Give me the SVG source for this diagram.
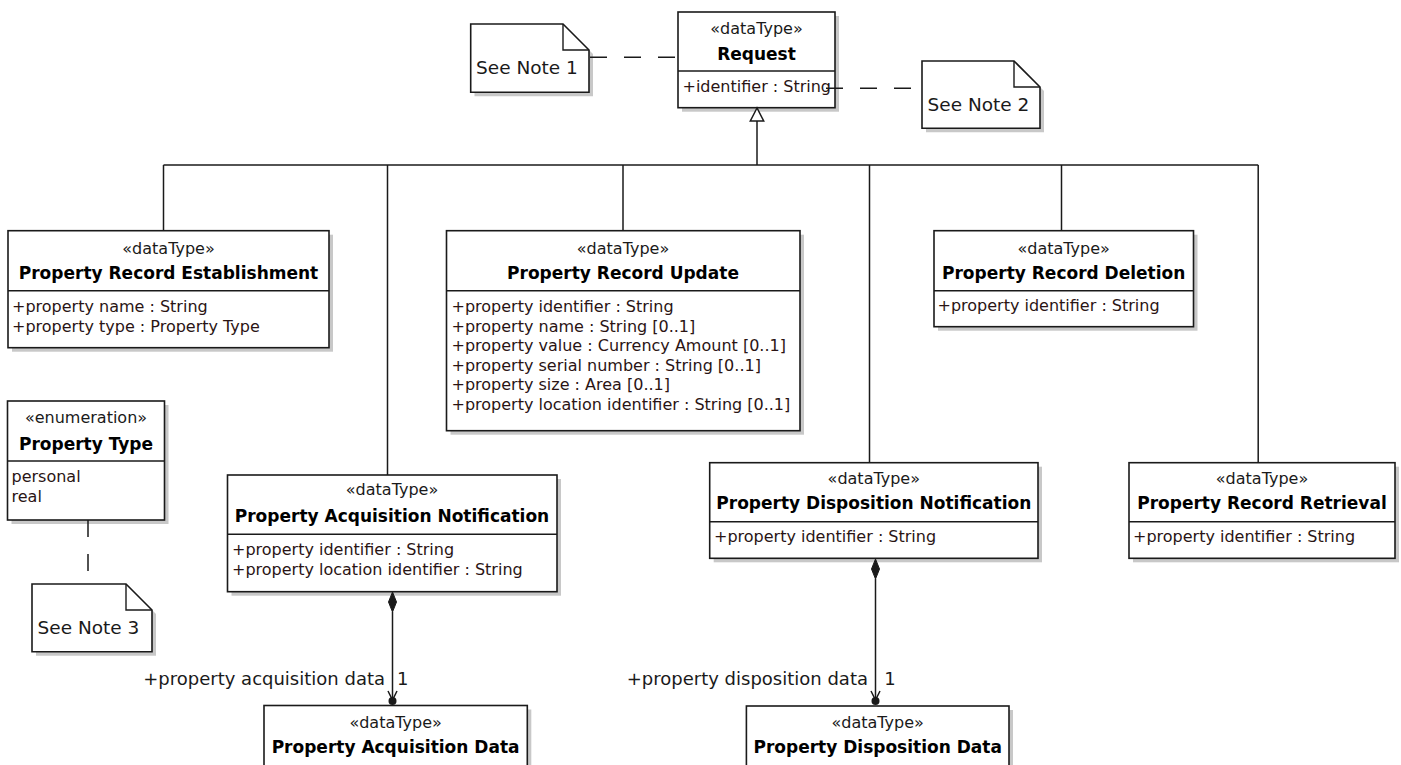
<svg xmlns="http://www.w3.org/2000/svg" width="1401" height="765" viewBox="0 0 1401 765">
<style>
  .box { fill: #ffffff; stroke: #1a1a1a; stroke-width: 1.6; }
  .sh { fill: #c8c8c8; }
  .div { stroke: #1a1a1a; stroke-width: 1.4; fill: none; }
  .st { font-family: "DejaVu Sans", Verdana, sans-serif; font-size: 16px; fill: #1a1a1a; text-anchor: middle; }
  .ti { font-family: "DejaVu Sans", Verdana, sans-serif; font-size: 17px; font-weight: bold; fill: #000000; text-anchor: middle; }
  .at { font-family: "DejaVu Sans", Verdana, sans-serif; font-size: 16px; fill: #2a1414; }
  .nt { font-family: "DejaVu Sans", Verdana, sans-serif; font-size: 18.5px; fill: #1a1a1a; }
  .lb { font-family: "DejaVu Sans", Verdana, sans-serif; font-size: 18px; fill: #1a1a1a; }
  .ln { stroke: #1a1a1a; stroke-width: 1.5; fill: none; }
  .dash { stroke: #1a1a1a; stroke-width: 1.5; fill: none; stroke-dasharray: 17 17; }
</style>

<!-- Notes -->
<g id="note1">
  <path class="sh" d="M474.5,28 H567 L593,54 V96.3 H474.5 Z"/>
  <path class="box" d="M470.7,24 H563 L589,50 V92.3 H470.7 Z"/>
  <path class="div" d="M563,24 V50 H589"/>
  <text class="nt" x="476" y="73.5">See Note 1</text>
</g>
<g id="note2">
  <path class="sh" d="M926,65 H1018 L1044,91 V132.3 H926 Z"/>
  <path class="box" d="M922,61 H1014 L1040,87 V128.3 H922 Z"/>
  <path class="div" d="M1014,61 V87 H1040"/>
  <text class="nt" x="927.5" y="111">See Note 2</text>
</g>
<g id="note3">
  <path class="sh" d="M36,588 H130 L156,614 V655.7 H36 Z"/>
  <path class="box" d="M32,584 H126 L152,610 V651.7 H32 Z"/>
  <path class="div" d="M126,584 V610 H152"/>
  <text class="nt" x="37.5" y="633.5">See Note 3</text>
</g>

<!-- Request -->
<g id="request">
  <rect class="sh" x="682" y="16" width="157" height="95.7"/>
  <rect class="box" x="678" y="12" width="157" height="95.7"/>
  <line class="div" x1="678" y1="71" x2="835" y2="71"/>
  <text class="st" x="756.5" y="34">«dataType»</text>
  <text class="ti" x="756.5" y="60">Request</text>
  <text class="at" x="682.5" y="92">+identifier : String</text>
</g>

<!-- Property Record Establishment -->
<g id="establishment">
  <rect class="sh" x="12" y="234.7" width="321" height="117"/>
  <rect class="box" x="8" y="230.7" width="321" height="117"/>
  <line class="div" x1="8" y1="290.7" x2="329" y2="290.7"/>
  <text class="st" x="168.5" y="254">«dataType»</text>
  <text class="ti" x="168.5" y="279">Property Record Establishment</text>
  <text class="at" x="12" y="312">+property name : String</text>
  <text class="at" x="12" y="332">+property type : Property Type</text>
</g>

<!-- Property Record Update -->
<g id="update">
  <rect class="sh" x="450.5" y="234.7" width="353.5" height="200"/>
  <rect class="box" x="446.5" y="230.7" width="353.5" height="200"/>
  <line class="div" x1="446.5" y1="290.7" x2="800" y2="290.7"/>
  <text class="st" x="623" y="254">«dataType»</text>
  <text class="ti" x="623" y="279">Property Record Update</text>
  <text class="at" x="451.5" y="312">+property identifier : String</text>
  <text class="at" x="451.5" y="331.5">+property name : String [0..1]</text>
  <text class="at" x="451.5" y="351">+property value : Currency Amount [0..1]</text>
  <text class="at" x="451.5" y="370.5">+property serial number : String [0..1]</text>
  <text class="at" x="451.5" y="390">+property size : Area [0..1]</text>
  <text class="at" x="451.5" y="409.5">+property location identifier : String [0..1]</text>
</g>

<!-- Property Record Deletion -->
<g id="deletion">
  <rect class="sh" x="938" y="234.7" width="259.5" height="96"/>
  <rect class="box" x="934" y="230.7" width="259.5" height="96"/>
  <line class="div" x1="934" y1="290.7" x2="1193.5" y2="290.7"/>
  <text class="st" x="1063.7" y="253.5">«dataType»</text>
  <text class="ti" x="1063.7" y="279">Property Record Deletion</text>
  <text class="at" x="937.5" y="311">+property identifier : String</text>
</g>

<!-- Property Type enumeration -->
<g id="propertyType">
  <rect class="sh" x="11.5" y="405" width="157" height="119"/>
  <rect class="box" x="7.5" y="401" width="157" height="119"/>
  <line class="div" x1="7.5" y1="461" x2="164.5" y2="461"/>
  <text class="st" x="86" y="423">«enumeration»</text>
  <text class="ti" x="86" y="450">Property Type</text>
  <text class="at" x="11.5" y="481.5">personal</text>
  <text class="at" x="11.5" y="502">real</text>
</g>

<!-- Property Acquisition Notification -->
<g id="acqNotification">
  <rect class="sh" x="231.5" y="479" width="329.5" height="116.7"/>
  <rect class="box" x="227.5" y="475" width="329.5" height="116.7"/>
  <line class="div" x1="227.5" y1="534.3" x2="557" y2="534.3"/>
  <text class="st" x="392" y="495">«dataType»</text>
  <text class="ti" x="392" y="521.5">Property Acquisition Notification</text>
  <text class="at" x="232" y="555">+property identifier : String</text>
  <text class="at" x="232" y="575">+property location identifier : String</text>
</g>

<!-- Property Disposition Notification -->
<g id="dispNotification">
  <rect class="sh" x="713.7" y="466.7" width="328.3" height="95.6"/>
  <rect class="box" x="709.7" y="462.7" width="328.3" height="95.6"/>
  <line class="div" x1="709.7" y1="521.7" x2="1038" y2="521.7"/>
  <text class="st" x="873.8" y="484">«dataType»</text>
  <text class="ti" x="873.8" y="509">Property Disposition Notification</text>
  <text class="at" x="714" y="542">+property identifier : String</text>
</g>

<!-- Property Record Retrieval -->
<g id="retrieval">
  <rect class="sh" x="1133" y="466.7" width="266" height="95.6"/>
  <rect class="box" x="1129" y="462.7" width="266" height="95.6"/>
  <line class="div" x1="1129" y1="521.7" x2="1395" y2="521.7"/>
  <text class="st" x="1262" y="484">«dataType»</text>
  <text class="ti" x="1262" y="509">Property Record Retrieval</text>
  <text class="at" x="1133" y="542">+property identifier : String</text>
</g>

<!-- Property Acquisition Data -->
<g id="acqData">
  <rect class="sh" x="268" y="709.5" width="263.3" height="80"/>
  <rect class="box" x="264" y="705.5" width="263.3" height="80"/>
  <text class="st" x="395.6" y="728">«dataType»</text>
  <text class="ti" x="395.6" y="753">Property Acquisition Data</text>
</g>

<!-- Property Disposition Data -->
<g id="dispData">
  <rect class="sh" x="750.4" y="710" width="262.6" height="80"/>
  <rect class="box" x="746.4" y="706" width="262.6" height="80"/>
  <text class="st" x="877.7" y="728">«dataType»</text>
  <text class="ti" x="877.7" y="753">Property Disposition Data</text>
</g>

<!-- Connectors -->
<g id="connectors">
  <!-- note anchors -->
  <line class="dash" x1="590" y1="57.3" x2="678" y2="57.3"/>
  <line class="dash" x1="826" y1="88.3" x2="922" y2="88.3"/>
  <line class="dash" x1="88" y1="520" x2="88" y2="584"/>

  <!-- generalization tree -->
  <polygon class="ln" points="757,108 750.3,121 763.7,121" style="fill:#ffffff"/>
  <line class="ln" x1="757" y1="121" x2="757" y2="165"/>
  <line class="ln" x1="163.5" y1="165" x2="1258.2" y2="165"/>
  <line class="ln" x1="163.5" y1="165" x2="163.5" y2="230.7"/>
  <line class="ln" x1="387.5" y1="165" x2="387.5" y2="475"/>
  <line class="ln" x1="623" y1="165" x2="623" y2="230.7"/>
  <line class="ln" x1="869.5" y1="165" x2="869.5" y2="462.7"/>
  <line class="ln" x1="1061.5" y1="165" x2="1061.5" y2="230.7"/>
  <line class="ln" x1="1258.2" y1="165" x2="1258.2" y2="462.7"/>

  <!-- composition: acquisition -->
  <polygon points="392.5,592 396.5,602 392.5,612 388.5,602" fill="#1a1a1a" stroke="#1a1a1a" stroke-width="1"/>
  <line class="ln" x1="392.5" y1="612" x2="392.5" y2="700"/>
  <polyline class="ln" points="388,691 392.5,700 397,691"/>
  <circle cx="392.5" cy="701" r="4" fill="#1a1a1a"/>
  <text class="lb" x="385" y="685" text-anchor="end">+property acquisition data</text>
  <text class="lb" x="402.7" y="685" text-anchor="middle">1</text>

  <!-- composition: disposition -->
  <polygon points="875.5,559 879.5,569 875.5,579 871.5,569" fill="#1a1a1a" stroke="#1a1a1a" stroke-width="1"/>
  <line class="ln" x1="875.5" y1="579" x2="875.5" y2="700"/>
  <polyline class="ln" points="871,691 875.5,700 880,691"/>
  <circle cx="875.5" cy="701" r="4" fill="#1a1a1a"/>
  <text class="lb" x="868" y="685" text-anchor="end">+property disposition data</text>
  <text class="lb" x="890" y="685" text-anchor="middle">1</text>
</g>
</svg>
